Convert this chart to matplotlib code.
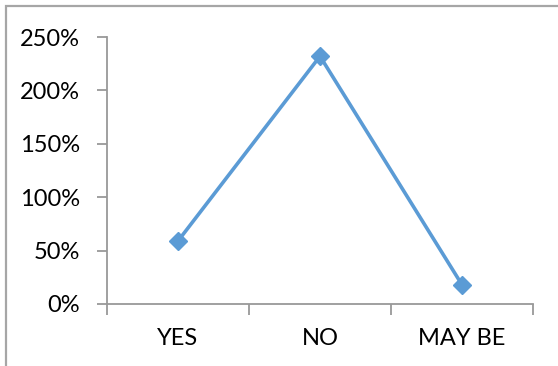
import matplotlib
matplotlib.use("Agg")
import matplotlib.pyplot as plt
from matplotlib.patches import Rectangle
from matplotlib.ticker import FixedLocator, PercentFormatter

categories = ["YES", "NO", "MAY BE"]
values = [0.59, 2.32, 0.18]
y_ticks = [0.0, 0.5, 1.0, 1.5, 2.0, 2.5]

plt.rcParams["font.family"] = ["Lato", "DejaVu Sans"]

W, H, DPI = 558, 366, 100
fig = plt.figure(figsize=(W / DPI, H / DPI), dpi=DPI)
fig.patch.set_facecolor("white")

# chart-area border (runs past the right and bottom edges)
fig.patches.append(Rectangle((6 / W, -0.1), 1.2, (H - 6) / H + 0.1,
                             transform=fig.transFigure, fill=False,
                             edgecolor="#a6a6a6", linewidth=1.6, zorder=0))

ax = fig.add_axes([107 / W, (H - 304) / H, (533 - 107) / W, (304 - 37) / H])
x = list(range(len(categories)))
ax.plot(x, values, color="#5b9bd5", linewidth=2.6, marker="D",
        markersize=9.5, markerfacecolor="#5b9bd5", markeredgecolor="#5b9bd5",
        solid_joinstyle="round", clip_on=False, zorder=3)

ax.set_xlim(-0.5, len(categories) - 0.5)
ax.set_ylim(0, 2.5)
ax.set_yticks(y_ticks)
ax.yaxis.set_major_formatter(PercentFormatter(xmax=1.0, decimals=0))

# category boundaries get tick marks, labels sit between them
ax.xaxis.set_major_locator(FixedLocator([i - 0.5 for i in range(len(categories) + 1)]))
ax.xaxis.set_major_formatter(plt.NullFormatter())
ax.xaxis.set_minor_locator(FixedLocator(x))
ax.set_xticklabels(categories, minor=True)

for side in ("top", "right"):
    ax.spines[side].set_visible(False)
for side in ("left", "bottom"):
    ax.spines[side].set_color("#999999")
    ax.spines[side].set_linewidth(1.3)

ax.tick_params(axis="y", which="major", direction="out", length=7, width=1.3,
               color="#999999", pad=12.5, labelsize=17, labelcolor="black")
ax.tick_params(axis="x", which="major", direction="out", length=8, width=1.3,
               color="#999999")
ax.tick_params(axis="x", which="minor", length=0, pad=17, labelsize=17,
               labelcolor="black")

fig.savefig("out.png", dpi=DPI, facecolor="white")
